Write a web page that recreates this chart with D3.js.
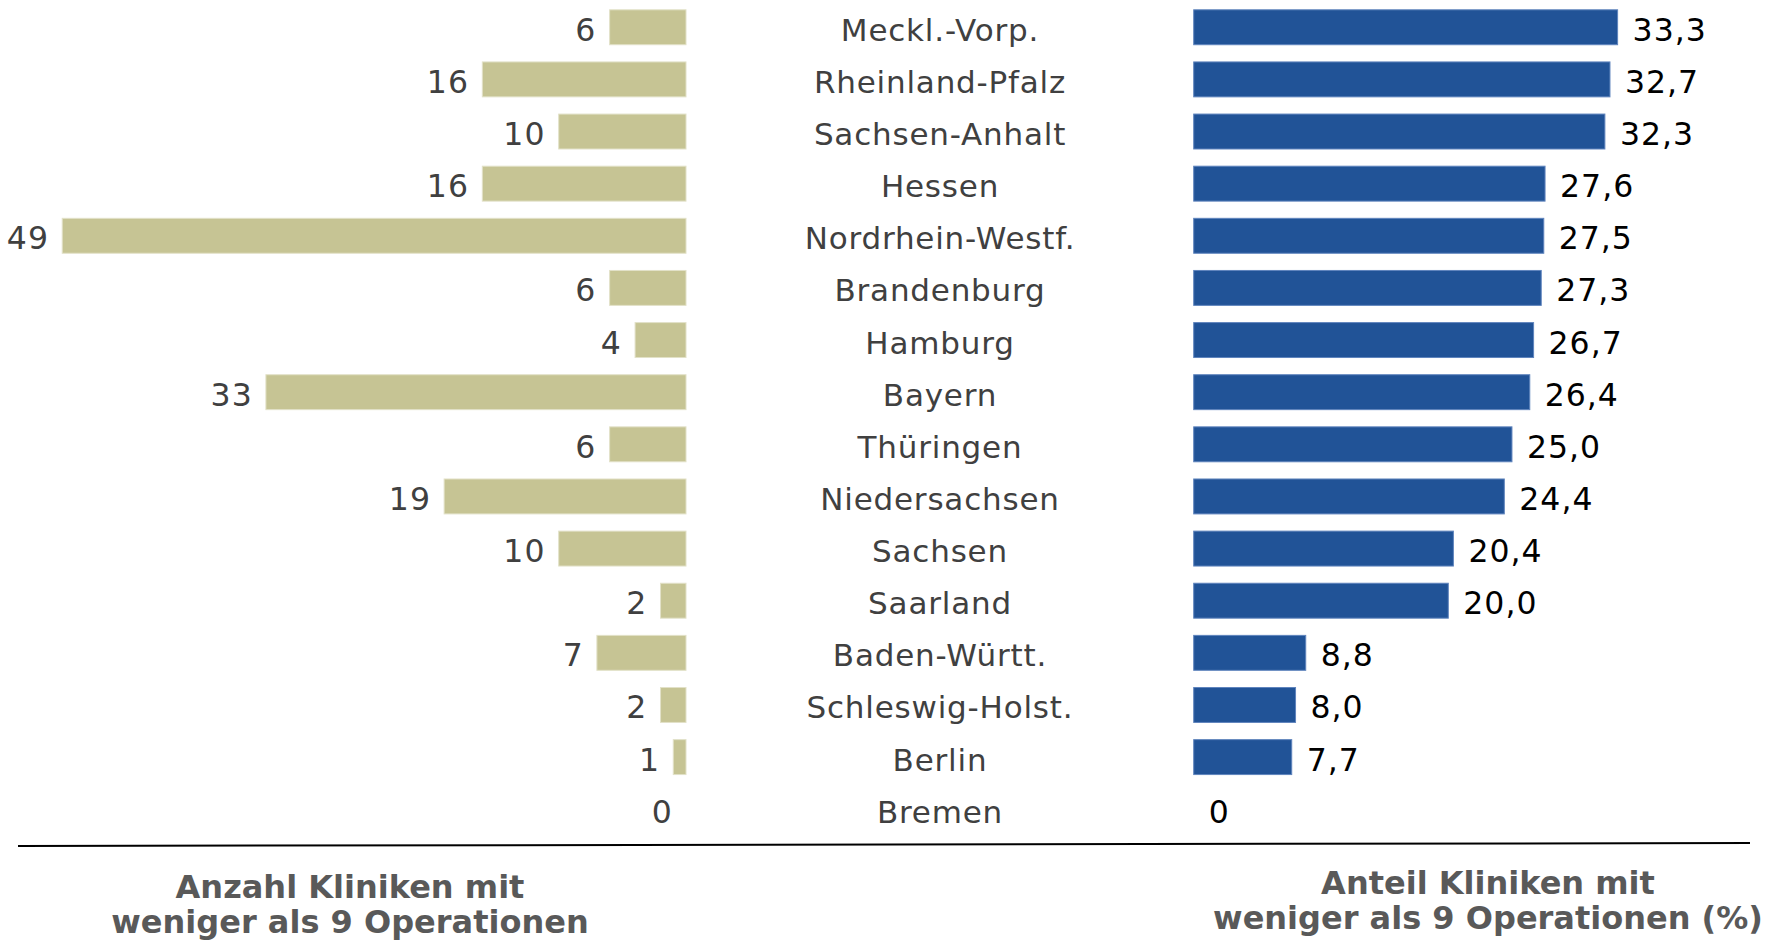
<!DOCTYPE html>
<html>
<head>
<meta charset="utf-8">
<script src="https://cdn.jsdelivr.net/npm/d3@7"></script>
<style>
  body { margin: 0; background: #fff; }
  svg { display: block; font-family: "DejaVu Sans", Verdana, sans-serif; }
</style>
</head>
<body>
<div id="chart"></div>
<script>
(function () {
  "use strict";

  // Bundesländer, sorted by share
  const states = [
    "Meckl.-Vorp.", "Rheinland-Pfalz", "Sachsen-Anhalt", "Hessen",
    "Nordrhein-Westf.", "Brandenburg", "Hamburg", "Bayern", "Thüringen",
    "Niedersachsen", "Sachsen", "Saarland", "Baden-Württ.",
    "Schleswig-Holst.", "Berlin", "Bremen"
  ];
  // Anzahl Kliniken mit weniger als 9 Operationen
  const counts = [6, 16, 10, 16, 49, 6, 4, 33, 6, 19, 10, 2, 7, 2, 1, 0];
  // Anteil Kliniken mit weniger als 9 Operationen (%)
  const shares = [33.3, 32.7, 32.3, 27.6, 27.5, 27.3, 26.7, 26.4, 25.0,
    24.4, 20.4, 20.0, 8.8, 8.0, 7.7, 0];

  const leftTitle = ["Anzahl Kliniken mit", "weniger als 9 Operationen"];
  const rightTitle = ["Anteil Kliniken mit", "weniger als 9 Operationen (%)"];

  const width = 1784;
  const height = 940;

  const svg = d3.select("#chart")
    .append("svg")
    .attr("width", width)
    .attr("height", height);

  const rows = states.map((s, i) => ({ state: s, count: counts[i], share: shares[i] }));

  const y = d3.scaleBand()
    .domain(states)
    .range([1.2, 835.3])
    .paddingInner(0.33)
    .paddingOuter(0.165);

  // same unit width on both sides
  const xLeft = d3.scaleLinear().domain([0, 50]).range([686, 686 - 636.5]);
  const xRight = d3.scaleLinear().domain([0, 50]).range([1193.7, 1193.7 + 636.5]);

  const fmt = (v) => (v === 0 ? "0" : v.toFixed(1).replace(".", ","));
  const mid = (d) => y(d.state) + y.bandwidth() / 2;
  const baseline = (d) => mid(d) + 13.5;

  // left bars (counts)
  svg.append("g")
    .selectAll("rect")
    .data(rows.filter((d) => d.count > 0))
    .join("rect")
    .attr("x", (d) => xLeft(d.count))
    .attr("y", (d) => y(d.state))
    .attr("width", (d) => xLeft(0) - xLeft(d.count))
    .attr("height", y.bandwidth())
    .attr("fill", "#c6c494")
    .attr("stroke", "#e2e1c8")
    .attr("stroke-width", 1);

  svg.append("g")
    .selectAll("text")
    .data(rows)
    .join("text")
    .attr("x", (d) => xLeft(d.count) - 13)
    .attr("y", baseline)
    .attr("text-anchor", "end")
    .attr("font-size", 31.5)
    .attr("letter-spacing", 1.2)
    .attr("fill", "#404040")
    .text((d) => d.count);

  // category labels in the middle
  svg.append("g")
    .selectAll("text")
    .data(rows)
    .join("text")
    .attr("x", 940)
    .attr("y", baseline)
    .attr("text-anchor", "middle")
    .attr("font-size", 31)
    .attr("letter-spacing", 0.8)
    .attr("fill", "#404040")
    .text((d) => d.state);

  // right bars (shares)
  svg.append("g")
    .selectAll("rect")
    .data(rows.filter((d) => d.share > 0))
    .join("rect")
    .attr("x", xRight(0))
    .attr("y", (d) => y(d.state))
    .attr("width", (d) => xRight(d.share) - xRight(0))
    .attr("height", y.bandwidth())
    .attr("fill", "#215397")
    .attr("stroke", "#5f84bd")
    .attr("stroke-width", 1);

  svg.append("g")
    .selectAll("text")
    .data(rows)
    .join("text")
    .attr("x", (d) => xRight(d.share) + 15)
    .attr("y", baseline)
    .attr("text-anchor", "start")
    .attr("font-size", 31.5)
    .attr("letter-spacing", 1)
    .attr("fill", "#000")
    .text((d) => fmt(d.share));

  // bottom rule
  svg.append("line")
    .attr("x1", 18)
    .attr("y1", 846)
    .attr("x2", 1750)
    .attr("y2", 843)
    .attr("stroke", "#000")
    .attr("stroke-width", 2);

  // axis titles
  const titles = [
    { lines: leftTitle, x: 350, y: 898 },
    { lines: rightTitle, x: 1488, y: 894 }
  ];

  titles.forEach((t) => {
    svg.append("text")
      .attr("x", t.x)
      .attr("y", t.y)
      .attr("text-anchor", "middle")
      .attr("font-size", 32)
      .attr("font-weight", "bold")
      .attr("fill", "#595959")
      .selectAll("tspan")
      .data(t.lines)
      .join("tspan")
      .attr("x", t.x)
      .attr("dy", (d, i) => (i === 0 ? 0 : 35))
      .text((d) => d);
  });
})();
</script>
</body>
</html>
